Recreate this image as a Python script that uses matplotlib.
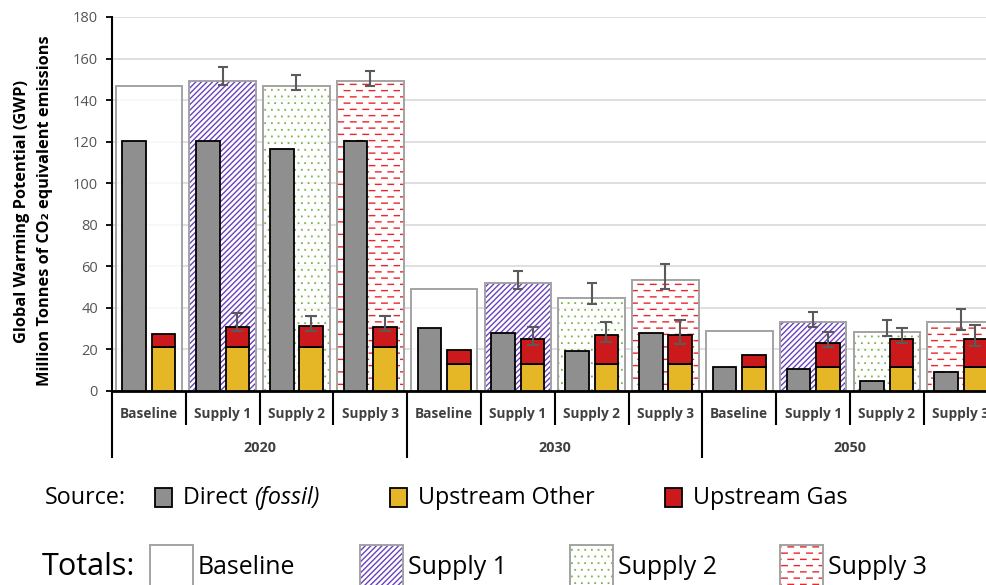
import numpy as np
import matplotlib
matplotlib.use("Agg")
import matplotlib.pyplot as plt
import matplotlib.hatch as mhatch
from matplotlib.path import Path
from matplotlib.patches import Rectangle

# ---------------------------------------------------------------- data
years = ["2020", "2030", "2050"]
scenarios = ["Baseline", "Supply 1", "Supply 2", "Supply 3"]

# Mt CO2e, ordered year by year, scenario by scenario
direct = [120.5, 120.2, 116.5, 120.2,
          30.5, 27.7, 19.4, 27.7,
          11.4, 10.6, 4.6, 9.3]
upstream_other = [21.2, 21.2, 21.2, 21.2,
                  12.9, 12.9, 12.9, 12.9,
                  11.6, 11.6, 11.6, 11.6]
upstream_gas = [6.1, 9.5, 10.3, 9.5,
                6.7, 12.3, 14.1, 14.0,
                5.8, 11.3, 13.4, 13.4]
# range of the upstream (other + gas) estimate
upstream_low = [np.nan, 28.7, 28.9, 28.8,
                np.nan, 22.1, 23.7, 22.4,
                np.nan, 21.0, 23.0, 21.5]
upstream_high = [np.nan, 37.3, 36.3, 36.3,
                 np.nan, 30.6, 33.4, 34.4,
                 np.nan, 28.6, 30.4, 32.0]
totals = [147.0, 149.4, 147.0, 149.4,
          49.3, 51.8, 44.6, 53.6,
          28.9, 33.0, 28.3, 33.0]
totals_low = [np.nan, 147.4, 145.0, 147.0,
              np.nan, 49.3, 42.1, 49.3,
              np.nan, 31.0, 26.3, 29.3]
totals_high = [np.nan, 155.7, 152.2, 154.1,
               np.nan, 57.6, 52.2, 61.1,
               np.nan, 37.8, 34.0, 39.3]

# ---------------------------------------------------------------- hatches
class DashRows(mhatch.HatchPatternBase):
    """Staggered rows of short horizontal dashes, selected with '-'."""
    def __init__(self, hatch, density):
        n = hatch.count("-")
        self.rows = 16 * n
        self.cols = 8
        self.num_vertices = self.rows * self.cols * 2

    def set_vertices_and_codes(self, vertices, codes):
        dy = 1.0 / self.rows
        dx = 1.0 / self.cols
        dash = 0.055
        k = 0
        for r in range(self.rows):
            y = (r + 0.5) * dy
            off = (r % 2) * dx / 2 + 0.005
            for c in range(self.cols):
                x0 = c * dx + off
                vertices[k] = (x0, y)
                vertices[k + 1] = (x0 + dash, y)
                codes[k] = Path.MOVETO
                codes[k + 1] = Path.LINETO
                k += 2


class DotGrid(mhatch.HatchPatternBase):
    """Staggered grid of small square dots, selected with '.'."""
    def __init__(self, hatch, density):
        n = hatch.count(".")
        self.rows = 15 * n
        self.num_vertices = self.rows * self.rows * 5

    def set_vertices_and_codes(self, vertices, codes):
        d = 1.0 / self.rows
        s = 0.004
        k = 0
        for r in range(self.rows):
            y = (r + 0.5) * d
            off = (r % 2) * d / 2
            for c in range(self.rows):
                x = (c + 0.25) * d + off
                vertices[k:k + 5] = [(x, y), (x + s, y), (x + s, y + s),
                                     (x, y + s), (x, y)]
                codes[k:k + 5] = [Path.MOVETO, Path.LINETO, Path.LINETO,
                                  Path.LINETO, Path.CLOSEPOLY]
                k += 5


mhatch._hatch_types = [mhatch.NorthEastHatch, DashRows, DotGrid]

# ---------------------------------------------------------------- style
FONT = ["Open Sans", "DejaVu Sans"]
plt.rcParams["font.family"] = FONT
plt.rcParams["hatch.linewidth"] = 1.0

GRAY, YELLOW, RED = "#8f8f8f", "#e5b626", "#cc191c"
hatch_style = {
    "Baseline": (None, "#a0a0a0"),
    "Supply 1": ("//////", "#6a42c0"),
    "Supply 2": (".", "#78b248"),
    "Supply 3": ("-", "#e8262b"),
}
BOX_EDGE = "#a3a3a3"
ERR = "#5a5a5a"
LABEL = "#404040"

W, H = 986, 585
fig = plt.figure(figsize=(W / 100, H / 100), dpi=100)
renderer = fig.canvas.get_renderer()

AX_L, AX_B, AX_W, AX_H = 112, 391, 885.6, 374   # pixels (top-left origin)
ax = fig.add_axes([AX_L / W, 1 - AX_B / H, AX_W / W, AX_H / H])


def fx(px):
    return px / W


def fy(py):
    return 1 - py / H


def fit(t, length_px):
    """Scale a text's font size so its long side spans length_px pixels."""
    bb = t.get_window_extent(renderer=renderer)
    t.set_fontsize(t.get_fontsize() * length_px / max(bb.width, bb.height))
    return t.get_fontsize()


n_cat = len(years) * len(scenarios)
x = np.arange(n_cat)
direct_a = np.array(direct)
other_a = np.array(upstream_other)
gas_a = np.array(upstream_gas)
up_top = other_a + gas_a
tot_a = np.array(totals)

# scenario totals: wide boxes behind the source bars
for s, name in enumerate(scenarios):
    idx = np.arange(s, n_cat, len(scenarios))
    hatch, hcol = hatch_style[name]
    ax.bar(x[idx], tot_a[idx], width=0.9, facecolor=(1, 1, 1, 0.8),
           edgecolor=hcol, hatch=hatch, linewidth=0, zorder=1)
    ax.bar(x[idx], tot_a[idx], width=0.9, fill=False,
           edgecolor=BOX_EDGE, linewidth=1.4, zorder=1.1)

# sources
ax.bar(x - 0.2, direct_a, width=0.32, color=GRAY, edgecolor="black",
       linewidth=1.3, zorder=3)
ax.bar(x + 0.2, other_a, width=0.32, color=YELLOW, edgecolor="black",
       linewidth=1.3, zorder=3)
ax.bar(x + 0.2, gas_a, bottom=other_a, width=0.32, color=RED,
       edgecolor="black", linewidth=1.3, zorder=3)

# uncertainty ranges
lo, hi = np.array(totals_low), np.array(totals_high)
m = ~np.isnan(lo)
ax.errorbar(x[m], tot_a[m], yerr=[tot_a[m] - lo[m], hi[m] - tot_a[m]],
            fmt="none", ecolor=ERR, elinewidth=1.5, capsize=3.4,
            capthick=1.5, zorder=4)
lo, hi = np.array(upstream_low), np.array(upstream_high)
m = ~np.isnan(lo)
ax.errorbar(x[m] + 0.2, up_top[m], yerr=[up_top[m] - lo[m], hi[m] - up_top[m]],
            fmt="none", ecolor=ERR, elinewidth=1.5, capsize=4.0,
            capthick=1.5, zorder=4)

# axes
ax.set_xlim(-0.5, n_cat - 0.5)
ax.set_ylim(0, 180)
ax.set_yticks(np.arange(0, 181, 20))
ax.tick_params(axis="y", length=4, width=1.3, color="black", labelsize=10.5,
               labelcolor="#555555", pad=6)
ax.set_xticks([])
ax.yaxis.grid(True, color="#d9d9d9", linewidth=1.2)
ax.set_axisbelow(True)
for side in ("top", "right"):
    ax.spines[side].set_visible(False)
ax.spines["left"].set_linewidth(1.5)
ax.spines["bottom"].set_linewidth(2.0)

# two-level category axis
tr = ax.get_xaxis_transform()
short_y = (AX_B - 425) / AX_H
long_y = (AX_B - 458) / AX_H
for k in range(n_cat + 1):
    yb = long_y if k % len(scenarios) == 0 else short_y
    ax.plot([k - 0.5, k - 0.5], [0, yb], transform=tr, color="black",
            linewidth=1.5, clip_on=False, solid_capstyle="butt")
cat_texts = []
for k in range(n_cat):
    cat_texts.append(ax.text(k, (AX_B - 414) / AX_H,
                             scenarios[k % len(scenarios)], transform=tr,
                             ha="center", va="center", fontsize=10,
                             fontweight="bold", color=LABEL))
cat_size = fit(cat_texts[0], 58)
for t in cat_texts:
    t.set_fontsize(cat_size)
for g, yr in enumerate(years):
    ax.text(g * len(scenarios) + (len(scenarios) - 1) / 2,
            (AX_B - 448) / AX_H, yr, transform=tr, ha="center",
            va="center", fontsize=cat_size * 1.05, fontweight="bold",
            color=LABEL)

# y-axis title (two lines, same size)
t2 = fig.text(fx(45), fy(211), "Million Tonnes of CO\u2082 equivalent emissions",
              rotation=90, ha="center", va="center", fontsize=11,
              fontweight="bold", color="black")
title_size = fit(t2, 352)
fig.text(fx(22), fy(211), "Global Warming Potential (GWP)", rotation=90,
         ha="center", va="center", fontsize=title_size, fontweight="bold",
         color="black")

# ---------------------------------------------------------------- legends
t = fig.text(fx(45), fy(498), "Source:", ha="left", va="center", fontsize=14)
probe = fig.text(0, 0, "Upstream Other", fontsize=14)
src_size = fit(probe, 178)
probe.remove()
t.set_fontsize(src_size)

src = [("Direct ", GRAY, 155), ("Upstream Other", YELLOW, 390),
       ("Upstream Gas", RED, 665)]
for label, col, px in src:
    fig.add_artist(Rectangle((fx(px), fy(507)), 17 / W, 19 / H,
                             transform=fig.transFigure, facecolor=col,
                             edgecolor="black", linewidth=1.3))
    t = fig.text(fx(px + 28), fy(498), label, ha="left", va="center",
                 fontsize=src_size)
    if label.startswith("Direct"):
        bb = t.get_window_extent(renderer=renderer)
        fig.text(bb.x1 / W, fy(498), "(fossil)", ha="left", va="center",
                 fontsize=src_size, fontstyle="italic")

t = fig.text(fx(42), fy(567), "Totals:", ha="left", va="center", fontsize=20)
fit(t, 93)
tot_leg = [("Baseline", 150), ("Supply 1", 360), ("Supply 2", 570),
           ("Supply 3", 780)]
tot_size = None
for name, px in tot_leg:
    hatch, hcol = hatch_style[name]
    fig.add_artist(Rectangle((fx(px), fy(592)), 43 / W, 47 / H,
                             transform=fig.transFigure, facecolor="white",
                             edgecolor=hcol, hatch=hatch, linewidth=0))
    fig.add_artist(Rectangle((fx(px), fy(592)), 43 / W, 47 / H,
                             transform=fig.transFigure, fill=False,
                             edgecolor=BOX_EDGE, linewidth=1.4))
    t = fig.text(fx(px + 48), fy(567), name, ha="left", va="center",
                 fontsize=17)
    if tot_size is None:
        tot_size = fit(t, 98)
    t.set_fontsize(tot_size)

fig.savefig("out.png", dpi=100)
